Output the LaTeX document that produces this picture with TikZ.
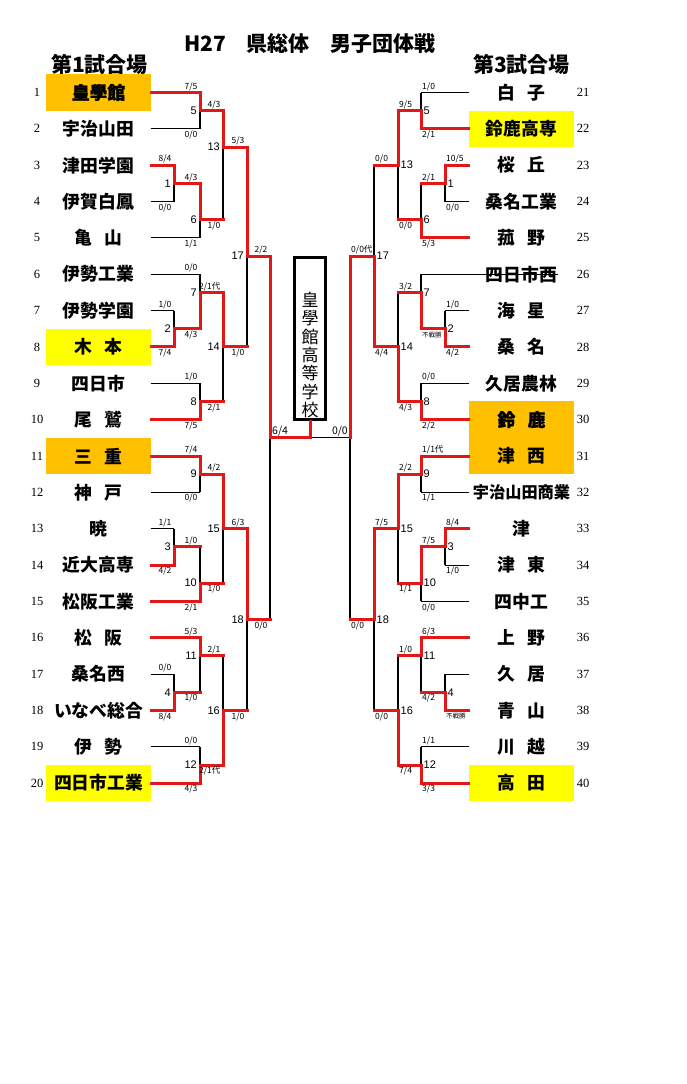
\documentclass[tikz,border=0pt]{standalone}
\usepackage{fontspec}
\newfontfamily\jp{Noto Sans CJK JP}
\newfontfamily\jph{Noto Sans CJK JP}[FakeBold=1.2]
\newfontfamily\lsans{Liberation Sans}
\newfontfamily\lserif{Liberation Serif}
\definecolor{rl}{RGB}{226,24,24}
\definecolor{og}{RGB}{255,192,0}
\definecolor{yl}{RGB}{255,255,0}
\newif\iflabels
\newcommand\smallfs{\fontsize{6.5}{7}\selectfont}
\newcommand\jsp{\hspace{0.7em}}
\newcommand\mt[8]{%
  \draw[#4h] (#3) -- (#3 -| #1#2);
  \draw[#4v] (#3 -| #1#2) -- (#1#2);
  \draw[#7h] (#6) -- (#6 -| #1#2);
  \draw[#7v] (#6 -| #1#2) -- (#1#2);
  \iflabels
    \def\mtlaba{#5}\ifx\mtlaba\empty\else
      \path (#3 -| #1#2) node[lab#1, yshift=6pt] (s#1#2a) {#5};\fi
    \def\mtlabb{#8}\ifx\mtlabb\empty\else
      \path (#6 -| #1#2) node[lab#1, yshift=-6pt] (s#1#2b) {#8};\fi
    \def\mtnum{#2}\def\mtF{F}\ifx\mtnum\mtF\else
      \node[mn#1] (n#1#2) at (#1#2) {#2};\fi
  \fi}
\newcommand\allmatches{%
\mt{L}{5}{t1.east}{W}{7/5}{t2.east}{B}{0/0}
\mt{L}{1}{t3.east}{W}{8/4}{t4.east}{B}{0/0}
\mt{L}{6}{L1}{W}{4/3}{t5.east}{B}{1/1}
\mt{L}{13}{L5}{W}{4/3}{L6}{X}{1/0}
\mt{L}{2}{t7.east}{B}{1/0}{t8.east}{W}{7/4}
\mt{L}{7}{t6.east}{B}{0/0}{L2}{W}{4/3}
\mt{L}{8}{t9.east}{B}{1/0}{t10.east}{W}{7/5}
\mt{L}{14}{L7}{W}{2/1代}{L8}{X}{2/1}
\mt{L}{17}{L13}{W}{5/3}{L14}{X}{1/0}
\mt{L}{9}{t11.east}{W}{7/4}{t12.east}{B}{0/0}
\mt{L}{3}{t13.east}{B}{1/1}{t14.east}{W}{4/2}
\mt{L}{10}{L3}{X}{1/0}{t15.east}{W}{2/1}
\mt{L}{15}{L9}{W}{4/2}{L10}{X}{1/0}
\mt{L}{4}{t17.east}{B}{0/0}{t18.east}{W}{8/4}
\mt{L}{11}{t16.east}{W}{5/3}{L4}{X}{1/0}
\mt{L}{12}{t19.east}{B}{0/0}{t20.east}{W}{4/3}
\mt{L}{16}{L11}{X}{2/1}{L12}{W}{2/1代}
\mt{L}{18}{L15}{W}{6/3}{L16}{X}{1/0}
\mt{L}{F}{L17}{W}{2/2}{L18}{X}{0/0}
\mt{R}{5}{t21.west}{B}{1/0}{t22.west}{W}{2/1}
\mt{R}{1}{t23.west}{W}{10/5}{t24.west}{B}{0/0}
\mt{R}{6}{R1}{X}{2/1}{t25.west}{W}{5/3}
\mt{R}{13}{R5}{W}{9/5}{R6}{X}{0/0}
\mt{R}{2}{t27.west}{B}{1/0}{t28.west}{W}{4/2}
\mt{R}{7}{t26.west}{B}{}{R2}{W}{\smallfs 不戦勝}
\mt{R}{8}{t29.west}{B}{0/0}{t30.west}{W}{2/2}
\mt{R}{14}{R7}{X}{3/2}{R8}{W}{4/3}
\mt{R}{17}{R13}{X}{0/0}{R14}{W}{4/4}
\mt{R}{9}{t31.west}{W}{1/1代}{t32.west}{B}{1/1}
\mt{R}{3}{t33.west}{W}{8/4}{t34.west}{B}{1/0}
\mt{R}{10}{R3}{W}{7/5}{t35.west}{B}{0/0}
\mt{R}{15}{R9}{W}{2/2}{R10}{X}{1/1}
\mt{R}{4}{t37.west}{B}{}{t38.west}{W}{\smallfs 不戦勝}
\mt{R}{11}{t36.west}{W}{6/3}{R4}{X}{4/2}
\mt{R}{12}{t39.west}{B}{1/1}{t40.west}{W}{3/3}
\mt{R}{16}{R11}{X}{1/0}{R12}{W}{7/4}
\mt{R}{18}{R15}{W}{7/5}{R16}{X}{0/0}
\mt{R}{F}{R17}{W}{0/0代}{R18}{X}{0/0}
}
\begin{document}
\begin{tikzpicture}[x=1pt,y=-1pt,
  RL/.style={draw=rl,line width=3pt,line cap=rect},
  KL/.style={draw=black,line width=1.1pt},
  redp/.style={RL}, blkp/.style={KL},
  Wh/.style={redp},Wv/.style={redp},Xh/.style={redp},Xv/.style={blkp},Bh/.style={blkp},Bv/.style={blkp},
  team/.style={minimum width=105pt,minimum height=36.5pt,inner sep=0pt,font=\jp\bfseries\fontsize{17.8}{20}\selectfont},
  heavy/.style={font=\jph\bfseries\fontsize{17.8}{20}\selectfont},
  tnum/.style={inner sep=0pt,font=\lserif\fontsize{12.5}{14}\selectfont},
  lab/.style={inner sep=0pt,font=\jp\fontsize{8.5}{9}\selectfont},
  labL/.style={lab,anchor=east,xshift=-2.5pt},
  labR/.style={lab,anchor=west,xshift=1pt},
  mn/.style={inner sep=0pt,font=\lsans\fontsize{11}{12}\selectfont},
  mnL/.style={mn,anchor=east,xshift=-3pt},
  mnR/.style={mn,anchor=west,xshift=2.5pt},
  head/.style={inner sep=0pt,font=\jp\bfseries\fontsize{21}{24}\selectfont}]
\path[use as bounding box, fill=white] (0,0) rectangle (686,1084);

% headings
\node[head] (title) at (310,44) {H27　県総体　男子団体戦};
\node[head] (site1) at (99.5,64) {第1試合場};
\node[head] (site3) at (521.5,64) {第3試合場};

% match points
\coordinate (L1) at (174,183.4);
\coordinate (L2) at (174,328.8);
\coordinate (L3) at (174,546.9);
\coordinate (L4) at (174,692.3);
\coordinate (L5) at (200,110.7);
\coordinate (L6) at (200,219.7);
\coordinate (L7) at (200,292.4);
\coordinate (L8) at (200,401.5);
\coordinate (L9) at (200,474.2);
\coordinate (L10) at (200,583.2);
\coordinate (L11) at (200,655.9);
\coordinate (L12) at (200,765.0);
\coordinate (L13) at (223,147.0);
\coordinate (L14) at (223,346.95);
\coordinate (L15) at (223,528.7);
\coordinate (L16) at (223,710.45);
\coordinate (L17) at (247,256.1);
\coordinate (L18) at (247,619.6);
\coordinate (LF) at (270,437.8);
\coordinate (R1) at (445,183.4);
\coordinate (R2) at (445,328.8);
\coordinate (R3) at (445,546.9);
\coordinate (R4) at (445,692.3);
\coordinate (R5) at (421,110.7);
\coordinate (R6) at (421,219.7);
\coordinate (R7) at (421,292.4);
\coordinate (R8) at (421,401.5);
\coordinate (R9) at (421,474.2);
\coordinate (R10) at (421,583.2);
\coordinate (R11) at (421,655.9);
\coordinate (R12) at (421,765.0);
\coordinate (R13) at (398,165.2);
\coordinate (R14) at (398,346.95);
\coordinate (R15) at (398,528.7);
\coordinate (R16) at (398,710.45);
\coordinate (R17) at (374,256.1);
\coordinate (R18) at (374,619.6);
\coordinate (RF) at (350,437.8);

% shared box 30/31
\node[fill=og,minimum width=105pt,minimum height=73pt,inner sep=0pt] (box3031) at (521.5,437.5) {};

% left teams
\node[team,fill=og,heavy] (t1) at (98.5,92.5) {皇學館};
\node[team] (t2) at (98.5,128.85) {宇治山田};
\node[team] (t3) at (98.5,165.2) {津田学園};
\node[team] (t4) at (98.5,201.55) {伊賀白鳳};
\node[team] (t5) at (98.5,237.9) {亀\jsp 山};
\node[team] (t6) at (98.5,274.25) {伊勢工業};
\node[team] (t7) at (98.5,310.6) {伊勢学園};
\node[team,fill=yl] (t8) at (98.5,346.95) {木\jsp 本};
\node[team] (t9) at (98.5,383.3) {四日市};
\node[team] (t10) at (98.5,419.65) {尾\jsp 鷲};
\node[team,fill=og] (t11) at (98.5,456.0) {三\jsp 重};
\node[team] (t12) at (98.5,492.35) {神\jsp 戸};
\node[team] (t13) at (98.5,528.7) {暁};
\node[team] (t14) at (98.5,565.05) {近大高専};
\node[team] (t15) at (98.5,601.4) {松阪工業};
\node[team] (t16) at (98.5,637.75) {松\jsp 阪};
\node[team] (t17) at (98.5,674.1) {桑名西};
\node[team] (t18) at (98.5,710.45) {いなべ総合};
\node[team] (t19) at (98.5,746.8) {伊\jsp 勢};
\node[team,fill=yl] (t20) at (98.5,783.15) {四日市工業};

% right teams
\node[team] (t21) at (521.5,92.5) {白\jsp 子};
\node[team,fill=yl] (t22) at (521.5,128.85) {鈴鹿高専};
\node[team] (t23) at (521.5,165.2) {桜\jsp 丘};
\node[team] (t24) at (521.5,201.55) {桑名工業};
\node[team] (t25) at (521.5,237.9) {菰\jsp 野};
\node[team] (t26) at (521.5,274.25) {四日市西};
\node[team] (t27) at (521.5,310.6) {海\jsp 星};
\node[team] (t28) at (521.5,346.95) {桑\jsp 名};
\node[team] (t29) at (521.5,383.3) {久居農林};
\node[team,heavy] (t30) at (521.5,419.65) {鈴\jsp 鹿};
\node[team] (t31) at (521.5,456.0) {津\jsp 西};
\node[team,font=\jp\bfseries\fontsize{16.2}{18}\selectfont] (t32) at (521.5,492.35) {宇治山田商業};
\node[team] (t33) at (521.5,528.7) {津};
\node[team] (t34) at (521.5,565.05) {津\jsp 東};
\node[team] (t35) at (521.5,601.4) {四中工};
\node[team] (t36) at (521.5,637.75) {上\jsp 野};
\node[team] (t37) at (521.5,674.1) {久\jsp 居};
\node[team] (t38) at (521.5,710.45) {青\jsp 山};
\node[team] (t39) at (521.5,746.8) {川\jsp 越};
\node[team,fill=yl] (t40) at (521.5,783.15) {高\jsp 田};

% strikethrough on team 26
\draw[KL] (t26.west) -- ([xshift=36.5pt]t26.center);

% team numbers
\foreach \i in {1,...,20} \node[tnum] (num\i) at (37,{92.5+36.35*(\i-1)}) {\i};
\foreach \i in {21,...,40} \node[tnum] (num\i) at (583,{92.5+36.35*(\i-21)}) {\i};

% champion box
\node[draw,line width=2.6pt,minimum width=31.5pt,minimum height=162.5pt,inner sep=0pt] (champ) at (310,338.5) {};
\node[inner sep=0pt,align=center,font=\jp\fontsize{17}{18.3}\selectfont] (champtxt) at (310,355) {皇\\學\\館\\高\\等\\学\\校};

% bracket: black pass, then red pass with labels
\tikzset{redp/.style={draw=none}, blkp/.style={KL}}
\labelsfalse
\allmatches
\draw[KL] (RF) -- (RF -| champ.south);
\tikzset{redp/.style={RL}, blkp/.style={draw=none}}
\labelstrue
\allmatches
\draw[RL] (LF) -- (LF -| champ.south) -- (champ.south);

\node[inner sep=0pt,anchor=west,font=\jp\fontsize{10.5}{12}\selectfont] (f64) at (272,431) {6/4};
\node[inner sep=0pt,anchor=east,font=\jp\fontsize{10.5}{12}\selectfont] (f00) at (348,431) {0/0};
\end{tikzpicture}
\end{document}
